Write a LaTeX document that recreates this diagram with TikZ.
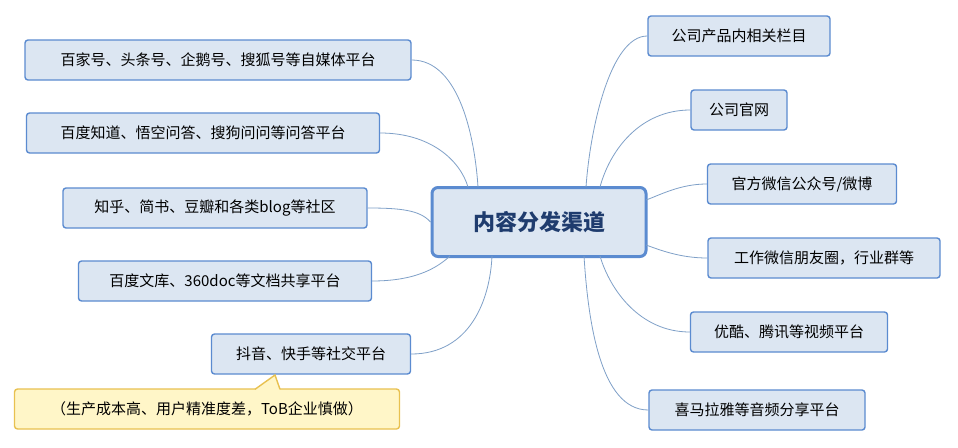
\documentclass[tikz,border=0pt]{standalone}
\usepackage{fontspec}
\newfontfamily\cjk{Noto Sans CJK SC}
\begin{document}
\begin{tikzpicture}[x=1pt,y=-1pt,
 box/.style={draw=boxb,line width=1.4pt,fill=boxf,rounded corners=3pt,font=\cjk\fontsize{15}{18}\selectfont,text=black,minimum height=40pt,inner xsep=12pt,anchor=center},
 note/.style={draw=noteb,line width=1.4pt,fill=notef,rounded corners=3pt,font=\cjk\fontsize{15}{18}\selectfont,minimum height=40pt,minimum width=385pt},
 link/.style={draw=linec,line width=0.8pt}]
\definecolor{boxb}{HTML}{5B8BD0}\definecolor{boxf}{HTML}{DCE6F2}
\definecolor{noteb}{HTML}{E8C150}\definecolor{notef}{HTML}{FFF6C8}
\definecolor{linec}{HTML}{7FA0C8}\definecolor{ctext}{HTML}{1F3C6E}
\useasboundingbox[fill=white](0,0) rectangle (958,447);
\node[box,line width=3pt,rounded corners=6pt,minimum width=214pt,minimum height=69pt,font=\cjk\bfseries\fontsize{22}{26}\selectfont,text=ctext] (c) at (539,222) {内容分发渠道};
\node[box,minimum width=386pt] (l1) at (218,60) {百家号、头条号、企鹅号、搜狐号等自媒体平台};
\node[box,minimum width=353pt] (l2) at (203,133) {百度知道、悟空问答、搜狗问问等问答平台};
\node[box,minimum width=304pt] (l3) at (215,208) {知乎、简书、豆瓣和各类blog等社区};
\node[box,minimum width=293pt] (l4) at (225,281) {百度文库、360doc等文档共享平台};
\node[box,minimum width=199pt] (l5) at (311,354) {抖音、快手等社交平台};
\node[note] (n) at (207,409) {（生产成本高、用户精准度差，ToB企业慎做）};
\fill[notef] (255,390) -- (275,375) -- (280,390) -- cycle;
\draw[noteb,line width=1.4pt] (255,389.3) -- (275,375) -- (280,389.3);
\node[box,minimum width=182pt] (r1) at (739,36) {公司产品内相关栏目};
\node[box,minimum width=96pt] (r2) at (739,110) {公司官网};
\node[box,minimum width=189pt] (r3) at (802,184) {官方微信公众号/微博};
\node[box,minimum width=232pt] (r4) at (824,258) {工作微信朋友圈，行业群等};
\node[box,minimum width=197pt] (r5) at (789,332) {优酷、腾讯等视频平台};
\node[box,minimum width=216pt] (r6) at (757,410) {喜马拉雅等音频分享平台};
\begin{scope}[on background layer/.style={}]
\draw[link] (l1.east) .. controls (460,60) and (475,140) .. (478,187);
\draw[link] (l2.east) .. controls (430,133) and (460,160) .. (468,187);
\draw[link] (l3.east) .. controls (400,208) and (420,210) .. (c.west);
\draw[link] (l4.east) .. controls (420,281) and (440,265) .. (450,256);
\draw[link] (l5.east) .. controls (470,354) and (490,300) .. (492,256);
\draw[link] (r1.west) .. controls (610,36) and (590,130) .. (586,187);
\draw[link] (r2.west) .. controls (640,110) and (610,150) .. (600,187);
\draw[link] (r3.west) .. controls (680,184) and (660,195) .. (646,200);
\draw[link] (r4.west) .. controls (680,258) and (660,250) .. (646,245);
\draw[link] (r5.west) .. controls (640,332) and (610,290) .. (600,256);
\draw[link] (r6.west) .. controls (600,410) and (588,320) .. (584,256);
\end{scope}
\end{tikzpicture}
\end{document}
